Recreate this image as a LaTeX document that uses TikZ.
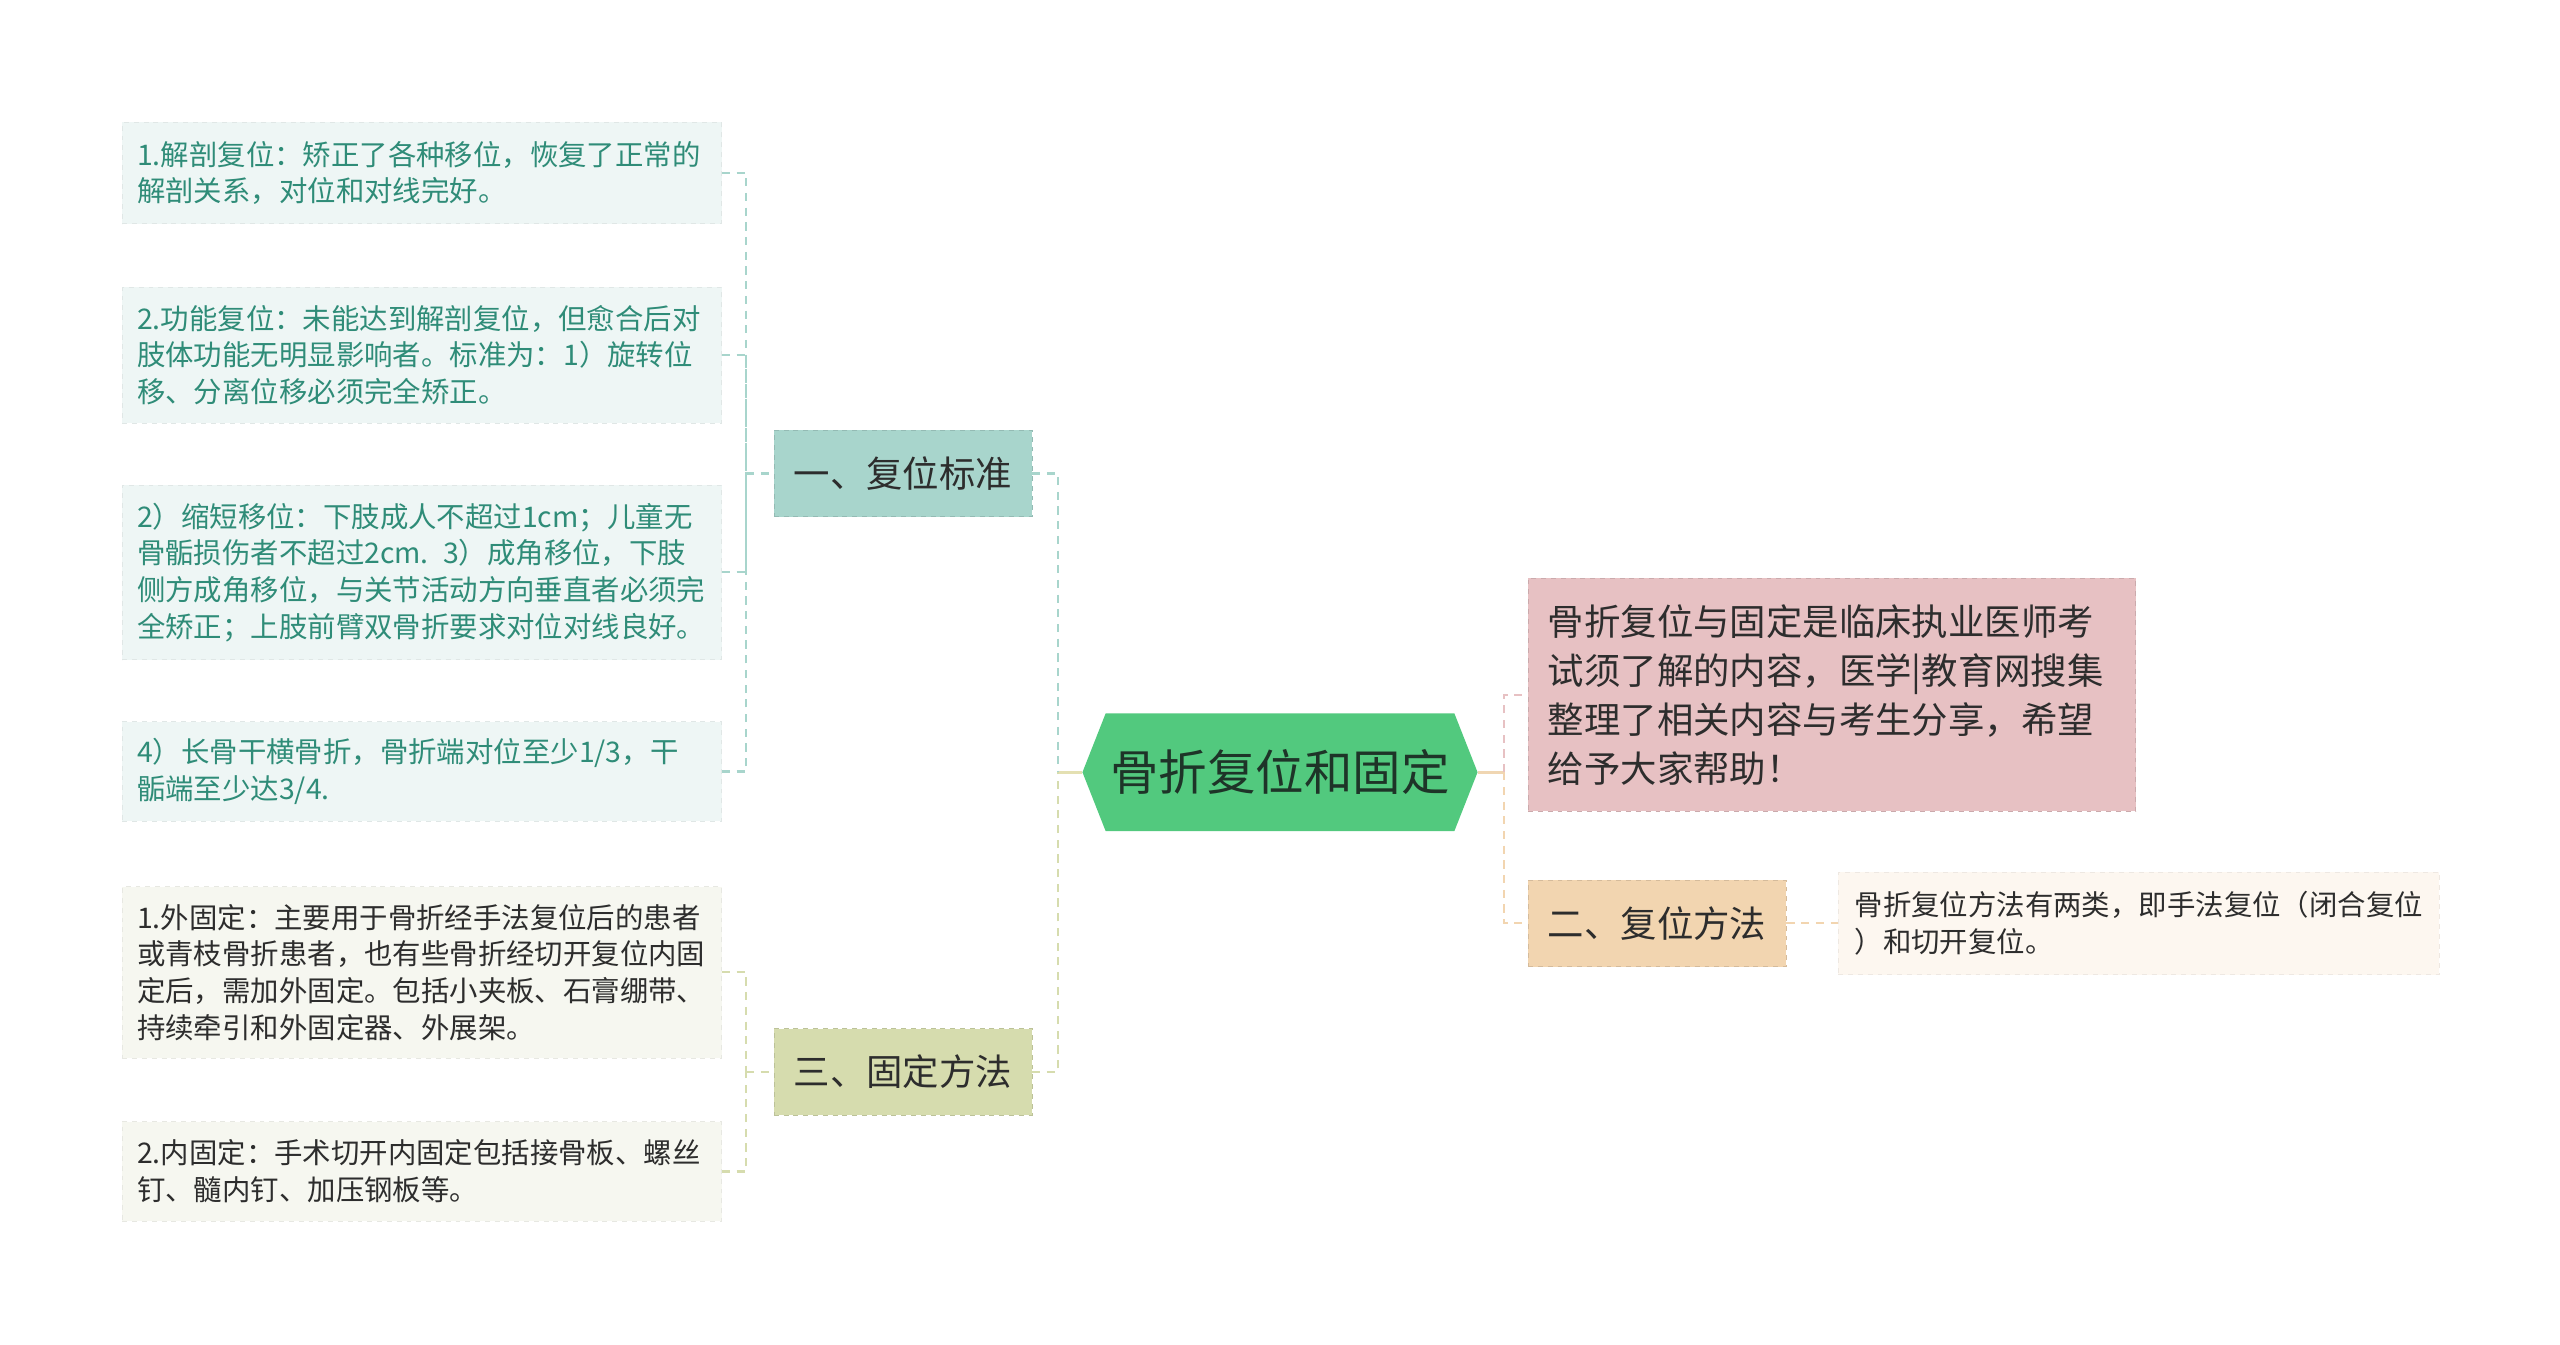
\documentclass[tikz,border=0pt]{standalone}
\usepackage{fontspec}
\setmainfont{Noto Sans CJK SC}
\usetikzlibrary{shapes.symbols}

\definecolor{rootgreen}{RGB}{82,201,126}
\definecolor{roottext}{RGB}{30,52,40}
\definecolor{onefill}{RGB}{168,213,204}
\definecolor{oneleaf}{RGB}{238,246,245}
\definecolor{onetext}{RGB}{47,140,120}
\definecolor{threefill}{RGB}{214,220,174}
\definecolor{threeleaf}{RGB}{246,247,240}
\definecolor{pinkfill}{RGB}{231,193,195}
\definecolor{twofill}{RGB}{242,213,176}
\definecolor{twoleaf}{RGB}{253,247,240}
\definecolor{darktext}{RGB}{45,45,45}
\definecolor{rootlinkl}{RGB}{228,224,178}
\definecolor{rootlinkr}{RGB}{240,214,178}

\begin{document}
\begin{tikzpicture}
		[
		x=1pt, y=-1pt, >=latex,
		%Stile
		topic/.style={rectangle, fill=#1, draw=#1!88!black, dashed, minimum width=158pt, minimum height=53pt, inner sep=0pt, text=darktext, font=\fontsize{22.3}{26}\selectfont},
		leaf/.style={rectangle, fill=#1, draw=#1!94!black, dashed, text width=349pt, inner xsep=9pt, inner ysep=0pt, align=left, font=\fontsize{17.4}{22.5}\selectfont},
		conn/.style={draw=#1, line width=1.4pt, dash pattern=on 5pt off 4pt},
		rootlink/.style={draw=#1, line width=1.6pt}
		]
		
		%Rahmen
		\useasboundingbox (0,0) rectangle (1568,823.8);
		
		%Hauptknoten
		\node[signal, signal to=west and east, signal pointer angle=137, fill=rootgreen, minimum width=242pt, minimum height=72pt, inner sep=0pt, text=roottext, font=\fontsize{29.7}{34}\selectfont] (root) at (784,473) {骨折复位和固定};
		
		%Zweige
		\node[topic=onefill] (one) at (553,290) {一、复位标准};
		\node[topic=threefill] (three) at (553,656.5) {三、固定方法};
		\node[topic=twofill] (two) at (1015,565.5) {二、复位方法};
		\node[rectangle, fill=pinkfill, draw=pinkfill!88!black, dashed, text width=348pt, inner xsep=12pt, minimum height=143pt, align=left, text=darktext, font=\fontsize{22.3}{30}\selectfont] (pink) at (1122,425.5) {骨折复位与固定是临床执业医师考\\试须了解的内容，医学|教育网搜集\\整理了相关内容与考生分享，希望\\给予大家帮助！};
		
		%Blaetter links oben
		\node[leaf=oneleaf, text=onetext, minimum height=62pt] (b1) at (258.5,106) {1.解剖复位：矫正了各种移位，恢复了正常的\\解剖关系，对位和对线完好。};
		\node[leaf=oneleaf, text=onetext, minimum height=83pt] (b2) at (258.5,217.5) {2.功能复位：未能达到解剖复位，但愈合后对\\肢体功能无明显影响者。标准为：1）旋转位\\移、分离位移必须完全矫正。};
		\node[leaf=oneleaf, text=onetext, minimum height=107pt] (b3) at (258.5,350.5) {2）缩短移位：下肢成人不超过1cm；儿童无\\骨骺损伤者不超过2cm. 3）成角移位，下肢\\侧方成角移位，与关节活动方向垂直者必须完\\全矫正；上肢前臂双骨折要求对位对线良好。};
		\node[leaf=oneleaf, text=onetext, minimum height=61pt] (b4) at (258.5,472.5) {4）长骨干横骨折，骨折端对位至少1/3，干\\骺端至少达3/4.};
		
		%Blaetter links unten
		\node[leaf=threeleaf, text=darktext, minimum height=105pt] (b5) at (258.5,595.5) {1.外固定：主要用于骨折经手法复位后的患者\\或青枝骨折患者，也有些骨折经切开复位内固\\定后，需加外固定。包括小夹板、石膏绷带、\\持续牵引和外固定器、外展架。};
		\node[leaf=threeleaf, text=darktext, minimum height=61pt] (b6) at (258.5,717.5) {2.内固定：手术切开内固定包括接骨板、螺丝\\钉、髓内钉、加压钢板等。};
		
		%Blatt rechts
		\node[rectangle, fill=twoleaf, draw=twoleaf!94!black, dashed, text width=348pt, inner xsep=10pt, minimum height=63pt, align=left, text=darktext, font=\fontsize{17.4}{23}\selectfont] (rleaf) at (1310,565.5) {骨折复位方法有两类，即手法复位（闭合复位\\）和切开复位。};
		
		%Knotenpunkte
		\coordinate (jl) at (648,473);
		\coordinate (jr) at (921,473);
		\coordinate (ja) at (457,290);
		\coordinate (jb) at (457,656.5);
		
		%Verbindungen Hauptknoten
		\draw[rootlink=rootlinkl] (root.west) -- (jl);
		\draw[rootlink=rootlinkr] (root.east) -- (jr);
		\draw[conn=onefill] (one.east) -| (jl);
		\draw[conn=threefill] (three.east) -| (jl);
		\draw[conn=pinkfill] (jr) |- (pink.west);
		\draw[conn=twofill] (jr) |- (two.west);
		
		%Verbindungen Blaetter
		\foreach \n in {b1,b2,b3,b4}
			\draw[conn=onefill] (\n.east) -| (ja);
		\draw[conn=onefill] (ja) -- (one.west);
		\foreach \n in {b5,b6}
			\draw[conn=threefill] (\n.east) -| (jb);
		\draw[conn=threefill] (jb) -- (three.west);
		\draw[conn=twofill] (two.east) -- (rleaf.west);
	\end{tikzpicture}
\end{document}
